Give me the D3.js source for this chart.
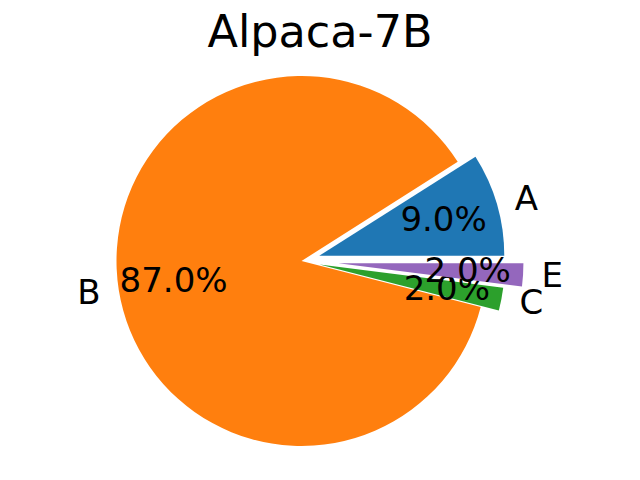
<!DOCTYPE html>
<html>
<head>
<meta charset="utf-8">
<script src="https://cdn.jsdelivr.net/npm/d3@7"></script>
<style>
  html, body { margin: 0; padding: 0; background: #fff; }
  text { font-family: "DejaVu Sans", sans-serif; fill: #000; }
</style>
</head>
<body>
<svg id="chart" width="640" height="480"></svg>
<script>
const title = "Alpaca-7B";
const labels = ["A", "B", "C", "E"];
const values = [9.0, 87.0, 2.0, 2.0];
const explode = [0.1, 0, 0.1, 0.2];
const colors = ["#1f77b4", "#ff7f0e", "#2ca02c", "#9467bd"];

const W = 640, H = 480;
const cx = 301.5, cy = 261, R = 185;
const svg = d3.select("#chart");

svg.append("text")
  .attr("x", 320).attr("y", 47)
  .attr("text-anchor", "middle")
  .style("font-size", "44.5px")
  .text(title);

const data = labels.map((l, i) => ({label: l, value: values[i], explode: explode[i], color: colors[i]}));

const pie = d3.pie().sort(null).value(d => d.value)
  .startAngle(Math.PI / 2).endAngle(Math.PI / 2 - 2 * Math.PI);
const arcs = pie(data);
const arc = d3.arc().innerRadius(0).outerRadius(R);

const g = svg.append("g").attr("transform", `translate(${cx},${cy})`);

arcs.forEach(a => {
  const mid = (a.startAngle + a.endAngle) / 2;
  const off = a.data.explode * R;
  const ox = Math.sin(mid) * off, oy = -Math.cos(mid) * off;
  const wg = g.append("g").attr("transform", `translate(${ox},${oy})`);
  wg.append("path").attr("d", arc(a)).attr("fill", a.data.color);
  const lx = Math.sin(mid) * R * 1.1, ly = -Math.cos(mid) * R * 1.1;
  wg.append("text")
    .attr("x", lx).attr("y", ly - 1)
    .attr("text-anchor", lx > 0 ? "start" : "end")
    .attr("dominant-baseline", "central")
    .style("font-size", "34px")
    .text(a.data.label);
  a._pct = {wg, x: Math.sin(mid) * R * 0.7, y: -Math.cos(mid) * R * 0.7};
});
arcs.forEach(a => {
  a._pct.wg.append("text")
    .attr("x", a._pct.x).attr("y", a._pct.y - 1)
    .attr("text-anchor", "middle")
    .attr("dominant-baseline", "central")
    .style("font-size", "34px")
    .text(d3.format(".1f")(a.data.value) + "%");
});
</script>
</body>
</html>
